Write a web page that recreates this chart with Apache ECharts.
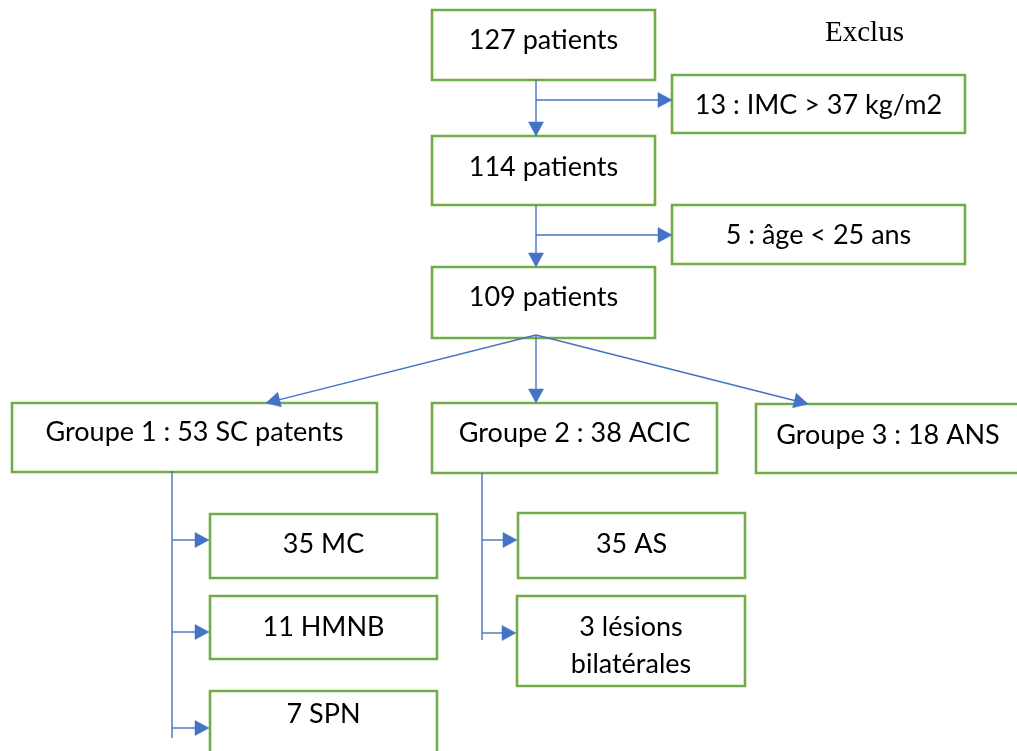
<!DOCTYPE html>
<html>
<head>
<meta charset="utf-8">
<script src="https://cdn.jsdelivr.net/npm/echarts@6/dist/echarts.min.js"></script>
<style>
html,body{margin:0;padding:0;background:#fff;}
#chart{width:1017px;height:751px;}
</style>
</head>
<body>
<div id="chart"></div>
<script>
// ---- data (flowchart content) ----
const boxLabels = [
  '127 patients',
  '13 : IMC > 37 kg/m2',
  '114 patients',
  '5 : âge < 25 ans',
  '109 patients',
  'Groupe 1 : 53 SC patents',
  'Groupe 2 : 38 ACIC',
  'Groupe 3 : 18 ANS',
  '35 MC',
  '11 HMNB',
  '7 SPN',
  '35 AS',
  '3 lésions\nbilatérales'
];
const sideTitle = 'Exclus';

// ---- layout (pixel frame 1017 x 751) ----
// [x, y, w, h, textOffsetFromTop]
const boxLayout = [
  [432, 10, 223, 70, 30],
  [672, 75, 293, 58, 30],
  [432, 136, 223, 69, 31],
  [672, 205, 293, 59, 30],
  [432, 267, 223, 71, 30],
  [12, 403, 365, 69, 29],
  [432, 403, 285, 70, 30],
  [756, 404, 264, 69, 31],
  [210, 514, 227, 64, 30],
  [210, 596, 227, 63, 31],
  [210, 691, 227, 70, 23],
  [518, 513, 227, 65, 31],
  [517, 596, 228, 90, 50]
];
// polylines: [points, hasArrow]
const connectors = [
  [[[536, 79], [536, 136]], true],
  [[[536, 100], [672, 100]], true],
  [[[536, 205], [536, 267]], true],
  [[[536, 235], [672, 235]], true],
  [[[536, 335], [266, 403]], true],
  [[[536, 335], [536, 403]], true],
  [[[536, 335], [808, 404]], true],
  [[[172, 471], [172, 738]], false],
  [[[172, 540], [209, 540]], true],
  [[[172, 632], [209, 632]], true],
  [[[172, 728], [209, 728]], true],
  [[[482, 473], [482, 640]], false],
  [[[482, 540], [517, 540]], true],
  [[[482, 633], [516, 633]], true]
];

const BORDER = '#70AD47';
const LINE = '#4472C4';
const FONT = 'Lato';

const chart = echarts.init(document.getElementById('chart'), null, {renderer: 'canvas'});

function renderBox(params, api) {
  const i = params.dataIndex;
  const [x, y, w, h, ty] = boxLayout[i];
  const p0 = api.coord([x, y]);
  const p1 = api.coord([x + w, y + h]);
  const pt = api.coord([x + w / 2, y + ty]);
  return {
    type: 'group',
    children: [
      {
        type: 'rect',
        shape: {x: p0[0], y: p0[1], width: p1[0] - p0[0], height: p1[1] - p0[1]},
        style: {fill: '#fff', stroke: BORDER, lineWidth: 2.6}
      },
      {
        type: 'text',
        x: pt[0], y: pt[1],
        style: {
          text: boxLabels[i],
          fill: '#000',
          font: '27px ' + FONT,
          align: 'center',
          verticalAlign: 'middle',
          lineHeight: 37
        }
      }
    ]
  };
}

function renderConnector(params, api) {
  const [pts, arrow] = connectors[params.dataIndex];
  const P = pts.map(p => api.coord(p));
  const children = [];
  const L = 14, HW = 7.5;
  let linePts = P.slice();
  let head = null;
  if (arrow) {
    const a = P[P.length - 2], b = P[P.length - 1];
    const dx = b[0] - a[0], dy = b[1] - a[1];
    const len = Math.hypot(dx, dy);
    const ux = dx / len, uy = dy / len;
    const bx = b[0] - ux * L, by = b[1] - uy * L;
    linePts[linePts.length - 1] = [bx + ux * 2, by + uy * 2];
    head = [[b[0], b[1]], [bx - uy * HW, by + ux * HW], [bx + uy * HW, by - ux * HW]];
  }
  children.push({
    type: 'polyline',
    shape: {points: linePts},
    style: {stroke: LINE, lineWidth: 1.4, fill: null}
  });
  if (head) {
    children.push({
      type: 'polygon',
      shape: {points: head},
      style: {fill: LINE, stroke: LINE, lineWidth: 0.5}
    });
  }
  return {type: 'group', children: children};
}

const option = {
  backgroundColor: '#ffffff',
  animation: false,
  grid: {left: 0, right: 0, top: 0, bottom: 0},
  xAxis: {type: 'value', min: 0, max: 1017, show: false},
  yAxis: {type: 'value', min: 0, max: 751, inverse: true, show: false},
  series: [
    {
      type: 'custom',
      name: 'boxes',
      coordinateSystem: 'cartesian2d',
      renderItem: renderBox,
      data: boxLabels.map((b, i) => i),
      silent: true,
      z: 1
    },
    {
      type: 'custom',
      name: 'connectors',
      coordinateSystem: 'cartesian2d',
      renderItem: renderConnector,
      data: connectors.map((c, i) => i),
      silent: true,
      z: 2
    }
  ],
  graphic: [
    {
      type: 'text',
      left: 825,
      top: 19,
      style: {text: sideTitle, fill: '#000', font: '29px "Liberation Serif"'}
    }
  ]
};
chart.setOption(option);
</script>
</body>
</html>
